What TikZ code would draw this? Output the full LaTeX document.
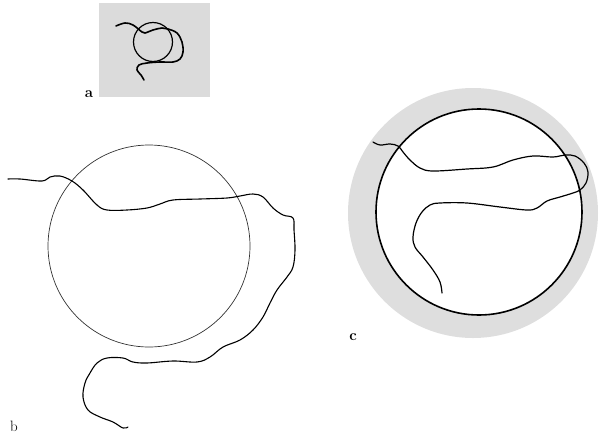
\documentclass[tikz,border=0pt]{standalone}
\usetikzlibrary{positioning}
\tikzset{
  wire/.style={line width=1.3pt, line cap=round, line join=round},
  thinring/.style={line width=0.7pt, black!80},
  panellabel/.style={font=\fontsize{15}{17}\selectfont\bfseries, inner sep=0pt}
}

\begin{document}
\begin{tikzpicture}[x=1pt,y=-1pt]
\useasboundingbox (0,0) rectangle (600,437);
% panel a
\fill[black!14] (99,3) rectangle (210,97);
\draw[line width=1.2pt] (153,42) circle (19.5);
\draw[wire, line width=1.6pt] plot[smooth, tension=0.6] coordinates {
  (116,26) (125,23) (133,25) (142,32) (145,33) (153,30) (162,28) (168,29)
  (177,33) (182,42) (183,52) (180,59) (173,62) (160,62) (147,63) (139,65)
  (137,70) (141,75) (144,80)};
\node[panellabel] (labela) at (89,94) {a};
% panel b
\draw[thinring] (149,246) circle (101);
\draw[wire, line width=1.1pt] plot[smooth, tension=0.6] coordinates {
  (8,179) (20,179) (42,181) (50,177) (60,176) (72,181) (83,190) (97,205)
  (107,210) (127,210) (147,208) (160,204) (173,200) (200,199) (227,198)
  (240,196) (253,194) (263,197) (273,208) (283,215) (293,218) (294,230)
  (295,250) (293,267) (287,277) (277,290) (270,303) (263,317) (253,330)
  (240,340) (223,347) (210,357) (197,362) (173,361) (147,363) (133,362)
  (123,358) (107,358) (97,363) (90,373) (85,383) (83,397) (88,410)
  (100,417) (113,422) (123,428) (128,427)};
\node[panellabel, font=\fontsize{15}{17}\selectfont] (labelb) at (14,426) {b};
% panel c
\fill[black!13] (473,213) circle (125);
\fill[white] (479,212) circle (103);
\draw[line width=1.6pt] (479,212) circle (103);
\draw[wire, line width=1.2pt] plot[smooth, tension=0.6] coordinates {
  (373,142) (380,145) (390,144) (398,146) (403,152) (410,160) (420,168)
  (433,171) (467,169) (493,167) (513,160) (533,156) (553,157) (565,155)
  (575,156) (584,163) (588,172) (586,183) (580,190) (573,193) (560,197)
  (547,201) (537,208) (527,210) (500,207) (467,203) (440,203) (430,205)
  (422,212) (416,223) (413,237) (415,247) (423,257) (433,270) (440,282)
  (442,293)};
\node[panellabel] (labelc) at (353,337) {c};
\end{tikzpicture}
\end{document}
